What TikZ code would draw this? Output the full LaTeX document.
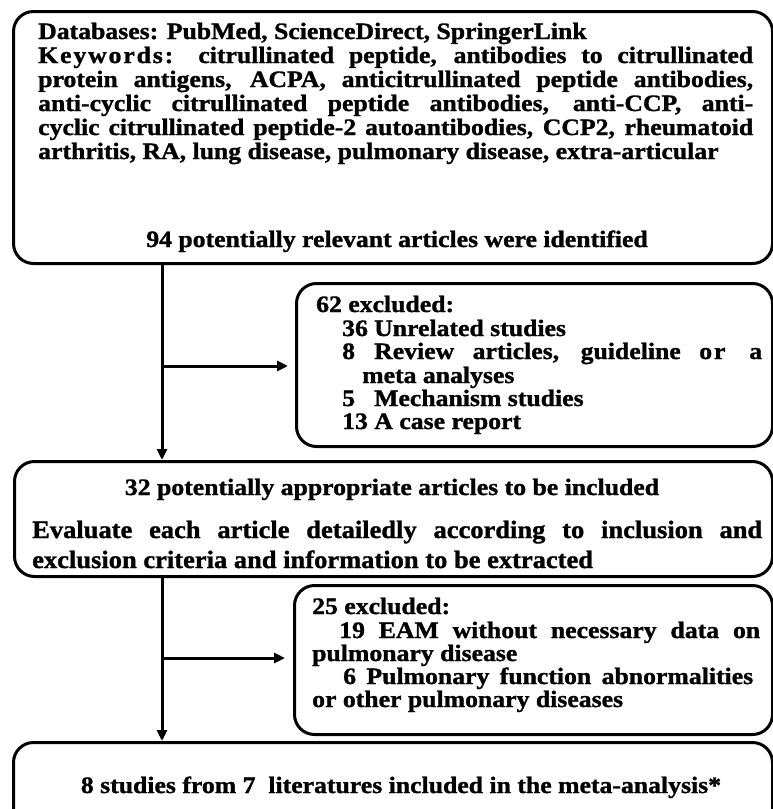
\documentclass[tikz,border=0pt]{standalone}
\usepackage{fontspec}
\setmainfont{Liberation Serif}[FakeStretch=1.095, BoldFeatures={FakeBold=1.2}]
\newfontfamily\evalfont{Liberation Serif}[FakeStretch=1.06, BoldFeatures={FakeBold=1.2}]
\usetikzlibrary{arrows.meta}
\newcommand{\spc}[1]{{\addfontfeature{LetterSpace=8}#1}}
\tikzset{
  flowbox/.style={draw, line width=3pt, rounded corners=20pt, anchor=north west, inner sep=0pt},
  txt/.style={anchor=base west, inner sep=0pt, font=\bfseries\fontsize{23.5}{24}\selectfont},
  ctxt/.style={anchor=base, inner sep=0pt, font=\bfseries\fontsize{23.5}{24}\selectfont},
  etxt/.style={anchor=base west, inner sep=0pt, font=\evalfont\bfseries\fontsize{25}{28}\selectfont},
  conn/.style={line width=3pt, -{Triangle[length=11pt,width=10pt]}},
}
\begin{document}
\begin{tikzpicture}[x=1pt,y=-1pt]
\useasboundingbox (0,0) rectangle (773,809);
\clip (0,0) rectangle (773,809);
\fill[white] (0,0) rectangle (773,809);

% boxes
\node[flowbox, minimum width=759pt, minimum height=252pt] (b1) at (12,10) {};
\node[flowbox, minimum width=476pt, minimum height=163pt] (b2) at (295,282) {};
\node[flowbox, minimum width=758pt, minimum height=115pt] (b3) at (13,460) {};
\node[flowbox, minimum width=478pt, minimum height=149pt] (b5) at (293,584) {};
\node[flowbox, minimum width=759pt, minimum height=120pt] (b4) at (12,741) {};

% box 1 text
\node[txt] (t11) at (38,39) {Databases: PubMed, ScienceDirect, SpringerLink};
\node[txt] (t12) at (38,63) {\makebox[715pt][s]{\spc{Keywords:} citrullinated peptide, antibodies to citrullinated}};
\node[txt] (t13) at (38,87) {\makebox[715pt][s]{protein antigens, ACPA, anticitrullinated peptide antibodies,}};
\node[txt] (t14) at (38,111) {\makebox[715pt][s]{anti-cyclic citrullinated peptide antibodies, anti-CCP, anti-}};
\node[txt] (t15) at (38,135) {\makebox[715pt][s]{cyclic citrullinated peptide-2 autoantibodies, CCP2, rheumatoid}};
\node[txt] (t16) at (38,159) {arthritis, RA, lung disease, pulmonary disease, extra-articular};
\node[ctxt] (t17) at (397,247) {94 potentially relevant articles were identified};

% box 2 text
\node[txt] (t21) at (316,312) {62 excluded:};
\node[txt] (t22a) at (342,336) {36};
\node[txt] (t22b) at (374,336) {Unrelated studies};
\node[txt] (t23a) at (342,359) {8};
\node[txt] (t23b) at (374,359) {\makebox[388pt][s]{Review articles, guideline \spc{or a}}};
\node[txt] (t24) at (362,383) {meta analyses};
\node[txt] (t25a) at (342,406) {5};
\node[txt] (t25b) at (374,406) {Mechanism studies};
\node[txt] (t26) at (342,429) {13 A case report};

% box 3 text
\node[ctxt] (t31) at (392,495) {32 potentially appropriate articles to be included};
\node[etxt] (t32) at (32,538) {\makebox[730pt][s]{Evaluate each article detailedly according to inclusion and}};
\node[etxt] (t33) at (32,568) {exclusion criteria and information to be extracted};

% box 5 text
\node[txt] (t51) at (312,614) {25 excluded:};
\node[txt] (t52) at (339,638) {\makebox[421pt][s]{19 EAM without necessary data on}};
\node[txt] (t53) at (312,661) {pulmonary disease};
\node[txt] (t54) at (343,684) {\makebox[410pt][s]{6 Pulmonary function abnormalities}};
\node[txt] (t55) at (312,707) {or other pulmonary diseases};

% box 4 text
\node[ctxt] (t41) at (401,793) {8 studies from 7\ \ literatures included in the meta-analysis*};

% connectors
\coordinate (j1) at (162,366);
\coordinate (j2) at (162,658);
\draw[conn] (b1.south -| j1) -- (b3.north -| j1);
\draw[conn, shorten >=7pt] (j1) -- (b2.west |- j1);
\draw[conn] (b3.south -| j2) -- (b4.north -| j2);
\draw[conn, shorten >=8pt] (j2) -- (b5.west |- j2);
\end{tikzpicture}
\end{document}
